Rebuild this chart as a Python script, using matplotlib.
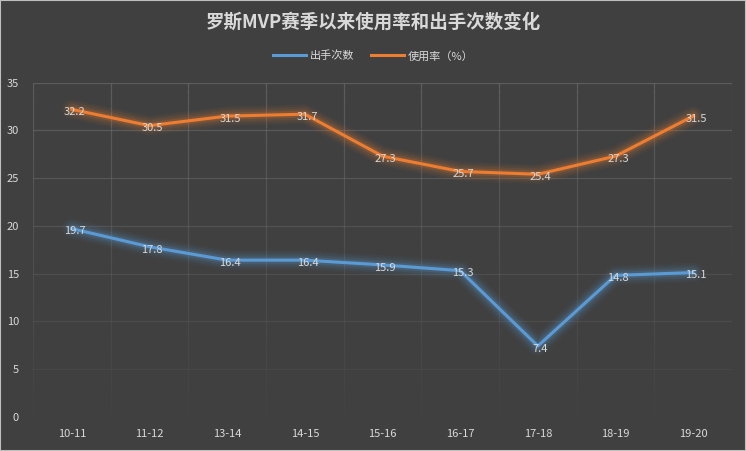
import matplotlib
matplotlib.use("Agg")
import matplotlib.pyplot as plt
import numpy as np
from matplotlib.patches import Rectangle
from matplotlib.collections import LineCollection

plt.rcParams['font.family'] = ['Noto Sans CJK SC', 'DejaVu Sans']

seasons = ['10-11', '11-12', '13-14', '14-15', '15-16', '16-17', '17-18', '18-19', '19-20']
shots = [19.7, 17.8, 16.4, 16.4, 15.9, 15.3, 7.4, 14.8, 15.1]
usage = [32.2, 30.5, 31.5, 31.7, 27.3, 25.7, 25.4, 27.3, 31.5]
series_names = ['出手次数', '使用率（%）']
title = '罗斯MVP赛季以来使用率和出手次数变化'
yticks = [0, 5, 10, 15, 20, 25, 30, 35]

bg = '#404040'
txt = '#d9d9d9'
blue = '#5b9bd5'
orange = '#ed7d31'

fig = plt.figure(figsize=(7.46, 4.51), dpi=100, facecolor=bg)
ax = fig.add_axes([33/746, 1-416.6/451, (732-33)/746, (416.6-82.7)/451])
ax.set_facecolor(bg)
x = np.arange(len(seasons))
ax.set_xlim(-0.5, len(seasons)-0.5)
ax.set_ylim(0, 35)

# gridlines fading toward bottom
for yv in yticks[1:]:
    a = 0.1 + 0.6*(yv/35)
    ax.axhline(yv, color='#6a6a6a', lw=0.9, alpha=a, zorder=0)
ys = np.linspace(0, 35, 60)
for xb in np.arange(-0.5, len(seasons)+0.5, 1.0):
    segs = [[(xb, ys[i]), (xb, ys[i+1])] for i in range(len(ys)-1)]
    alphas = [0.05 + 0.65*(ys[i]/35) for i in range(len(ys)-1)]
    cols = [(0.42, 0.42, 0.42, a) for a in alphas]
    ax.add_collection(LineCollection(segs, colors=cols, lw=0.9, zorder=0))

for vals, c, name in [(shots, blue, series_names[0]), (usage, orange, series_names[1])]:
    for w, a in [(14, 0.05), (11, 0.07), (8, 0.1), (5, 0.18)]:
        ax.plot(x, vals, color=c, lw=w, alpha=a, solid_capstyle='round', solid_joinstyle='round', zorder=2)
    ax.plot(x, vals, color=c, lw=2.2, zorder=3, label=name, solid_joinstyle='round')
    for xi, v in zip(x, vals):
        ax.annotate(f'{v:.1f}', (xi, v), xytext=(2, -2), textcoords='offset points',
                    ha='center', va='center', color=txt, fontsize=8, zorder=4)

for s in ax.spines.values():
    s.set_visible(False)
ax.set_yticks(yticks)
ax.set_xticks(x)
ax.set_xticklabels(seasons)
ax.tick_params(axis='both', length=0, colors=txt, labelsize=8)
ax.tick_params(axis='y', pad=10)
ax.tick_params(axis='x', pad=9)

fig.text(0.5, 1-22/451, title, ha='center', va='center', color=txt, fontsize=13.3, fontweight='bold')
leg = fig.legend(loc='center', bbox_to_anchor=(0.5, 1-56/451), ncol=2, frameon=False,
                 fontsize=8, labelcolor=txt, handlelength=3, columnspacing=1.5, handletextpad=0.3)
for h in leg.get_lines():
    h.set_linewidth(2.2)

fig.patches.append(Rectangle((0, 0), 1, 1, transform=fig.transFigure, fill=False,
                             edgecolor='#bfbfbf', lw=1.5))
fig.savefig('out.png', dpi=100, facecolor=bg)
